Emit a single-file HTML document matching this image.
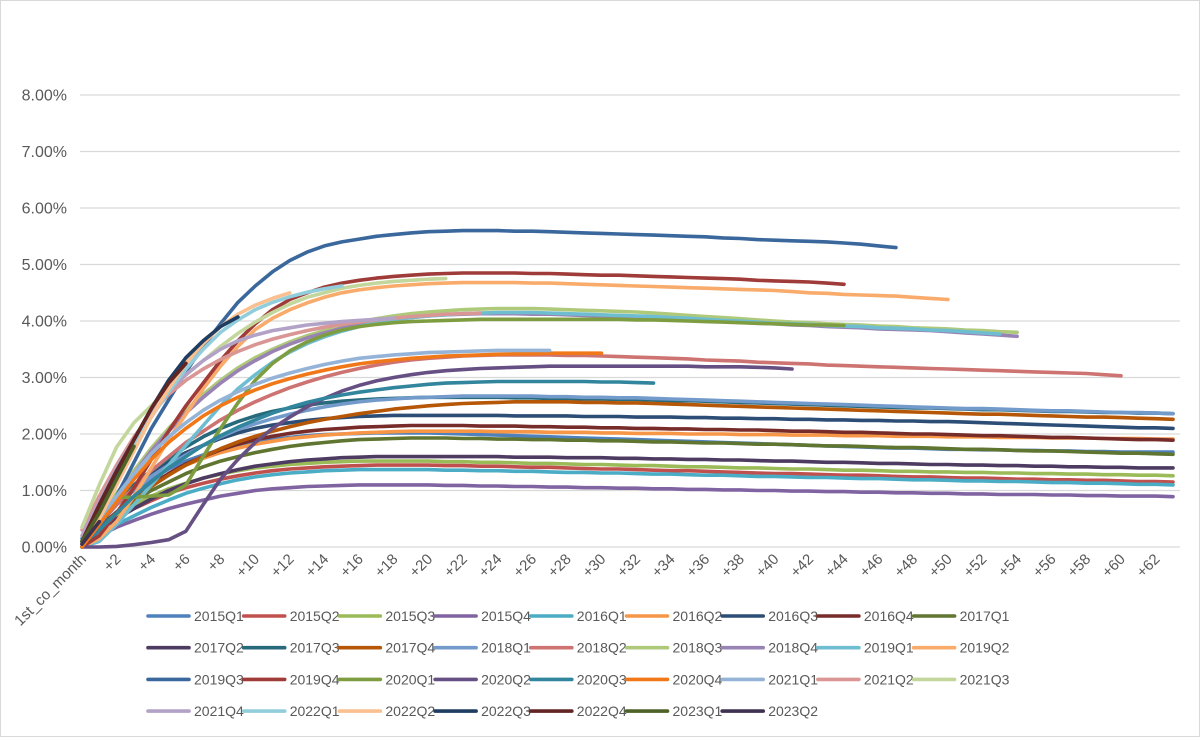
<!DOCTYPE html>
<html><head><meta charset="utf-8"><style>
html,body{margin:0;padding:0;background:#fff;}
#wrap{position:relative;width:1200px;height:737px;overflow:hidden;font-family:"Liberation Sans",sans-serif;}
</style></head><body>
<div id="wrap">
<svg id="chart" width="1200" height="737" xmlns="http://www.w3.org/2000/svg">
<rect x="0.5" y="0.5" width="1199" height="736" fill="#fff" stroke="#d9d9d9"/>
<g id="grid"></g>
<g id="yticks"></g>
<g id="xticks"></g>
<g id="lines"></g>
<g id="legend"></g>
</svg>
</div>
<script>
const yTicks = [0,1,2,3,4,5,6,7,8];
const seriesNames = ["2015Q1","2015Q2","2015Q3","2015Q4","2016Q1","2016Q2","2016Q3","2016Q4","2017Q1","2017Q2","2017Q3","2017Q4","2018Q1","2018Q2","2018Q3","2018Q4","2019Q1","2019Q2","2019Q3","2019Q4","2020Q1","2020Q2","2020Q3","2020Q4","2021Q1","2021Q2","2021Q3","2021Q4","2022Q1","2022Q2","2022Q3","2022Q4","2023Q1","2023Q2"];
const seriesColors = ["#4F81BD","#C0504D","#9BBB59","#8064A2","#4BACC6","#F79646","#2C4D75","#772C2A","#5F7530","#4D3B62","#276A7C","#B65708","#729ACA","#CD7371","#AFC97A","#9983B5","#6FBDD1","#F9AB6B","#3A679C","#9F3B38","#7E9D40","#664F83","#31859C","#F07818","#95B3D7","#D99694","#C3D69B","#B2A2C7","#92CDDC","#FAC090","#1F3D60","#632523","#4F6228","#3F3151"];
const s2015Q1=[0.15,0.45,0.75,1.0,1.2,1.38,1.52,1.63,1.72,1.8,1.86,1.9,1.94,1.97,1.99,2.0,2.01,2.02,2.02,2.02,2.02,2.01,2.0,1.99,1.98,1.97,1.96,1.95,1.94,1.93,1.92,1.91,1.9,1.89,1.88,1.87,1.86,1.85,1.84,1.83,1.82,1.81,1.8,1.79,1.78,1.77,1.76,1.75,1.75,1.74,1.73,1.73,1.72,1.72,1.71,1.71,1.7,1.7,1.69,1.69,1.68,1.68,1.68,1.68];
const s2015Q2=[0.1,0.3,0.5,0.68,0.82,0.95,1.05,1.13,1.2,1.26,1.31,1.35,1.38,1.4,1.42,1.43,1.44,1.45,1.45,1.45,1.45,1.44,1.44,1.43,1.43,1.42,1.41,1.41,1.4,1.39,1.38,1.38,1.37,1.36,1.35,1.35,1.34,1.33,1.32,1.31,1.3,1.3,1.29,1.28,1.27,1.27,1.26,1.25,1.24,1.24,1.23,1.22,1.22,1.21,1.2,1.2,1.19,1.19,1.18,1.18,1.17,1.16,1.16,1.15];
const s2015Q3=[0.1,0.32,0.55,0.74,0.9,1.03,1.13,1.22,1.29,1.35,1.4,1.43,1.46,1.48,1.5,1.51,1.52,1.52,1.52,1.52,1.52,1.51,1.51,1.5,1.5,1.49,1.48,1.48,1.47,1.46,1.46,1.45,1.44,1.44,1.43,1.42,1.42,1.41,1.4,1.4,1.39,1.38,1.38,1.37,1.36,1.36,1.35,1.34,1.34,1.33,1.33,1.32,1.32,1.31,1.31,1.3,1.3,1.29,1.29,1.28,1.28,1.27,1.27,1.26];
const s2015Q4=[0.05,0.2,0.35,0.47,0.58,0.68,0.76,0.83,0.9,0.95,1.0,1.03,1.05,1.07,1.08,1.09,1.1,1.1,1.1,1.1,1.1,1.09,1.09,1.08,1.08,1.07,1.07,1.06,1.06,1.05,1.05,1.04,1.04,1.03,1.03,1.02,1.02,1.01,1.01,1.0,1.0,0.99,0.99,0.98,0.98,0.97,0.97,0.96,0.96,0.95,0.95,0.94,0.94,0.93,0.93,0.93,0.92,0.92,0.91,0.91,0.9,0.9,0.9,0.89];
const s2016Q1=[0.05,0.22,0.4,0.55,0.7,0.83,0.95,1.04,1.12,1.19,1.24,1.28,1.31,1.33,1.35,1.36,1.37,1.37,1.37,1.37,1.37,1.36,1.36,1.35,1.35,1.34,1.34,1.33,1.32,1.32,1.31,1.31,1.3,1.29,1.29,1.28,1.27,1.27,1.26,1.25,1.25,1.24,1.23,1.23,1.22,1.21,1.21,1.2,1.19,1.19,1.18,1.17,1.17,1.16,1.16,1.15,1.14,1.14,1.13,1.13,1.12,1.11,1.11,1.1];
const s2016Q2=[0.05,0.3,0.6,0.9,1.1,1.3,1.45,1.57,1.67,1.75,1.82,1.87,1.92,1.95,1.98,2.0,2.02,2.03,2.04,2.05,2.05,2.05,2.05,2.05,2.04,2.04,2.04,2.03,2.03,2.03,2.02,2.02,2.01,2.01,2.01,2.0,2.0,2.0,1.99,1.99,1.99,1.98,1.98,1.98,1.97,1.97,1.97,1.96,1.96,1.96,1.95,1.95,1.95,1.94,1.94,1.94,1.93,1.93,1.93,1.92,1.92,1.92,1.91,1.91];
const s2016Q3=[0.1,0.4,0.75,1.05,1.3,1.5,1.67,1.8,1.92,2.02,2.1,2.16,2.2,2.24,2.27,2.29,2.31,2.32,2.33,2.33,2.33,2.33,2.33,2.33,2.33,2.32,2.32,2.32,2.32,2.31,2.31,2.31,2.3,2.3,2.3,2.29,2.29,2.28,2.28,2.27,2.27,2.26,2.26,2.25,2.25,2.24,2.24,2.23,2.23,2.22,2.22,2.21,2.2,2.19,2.18,2.17,2.16,2.15,2.14,2.13,2.12,2.11,2.11,2.1];
const s2016Q4=[0.1,0.35,0.62,0.88,1.1,1.3,1.47,1.6,1.72,1.82,1.9,1.96,2.01,2.05,2.08,2.1,2.12,2.13,2.14,2.15,2.15,2.15,2.15,2.14,2.14,2.14,2.13,2.13,2.12,2.12,2.11,2.11,2.1,2.1,2.09,2.09,2.08,2.08,2.07,2.07,2.06,2.05,2.05,2.04,2.03,2.03,2.02,2.01,2.0,2.0,1.99,1.98,1.97,1.97,1.96,1.95,1.94,1.94,1.93,1.92,1.91,1.9,1.9,1.89];
const s2017Q1=[0.1,0.35,0.6,0.82,1.0,1.15,1.3,1.42,1.52,1.6,1.67,1.73,1.78,1.82,1.85,1.88,1.9,1.91,1.92,1.93,1.93,1.93,1.92,1.92,1.91,1.91,1.9,1.9,1.89,1.89,1.88,1.88,1.87,1.86,1.86,1.85,1.84,1.84,1.83,1.82,1.82,1.81,1.8,1.79,1.79,1.78,1.77,1.76,1.76,1.75,1.74,1.73,1.73,1.72,1.71,1.7,1.7,1.69,1.68,1.67,1.66,1.66,1.65,1.64];
const s2017Q2=[0.05,0.3,0.5,0.68,0.85,1.0,1.12,1.22,1.3,1.37,1.43,1.47,1.51,1.54,1.56,1.58,1.59,1.6,1.6,1.6,1.6,1.6,1.6,1.6,1.6,1.59,1.59,1.59,1.58,1.58,1.58,1.57,1.57,1.56,1.56,1.55,1.55,1.54,1.54,1.53,1.52,1.52,1.51,1.5,1.5,1.49,1.48,1.48,1.47,1.46,1.46,1.45,1.45,1.44,1.44,1.43,1.43,1.42,1.42,1.41,1.41,1.4,1.4,1.4];
const s2017Q3=[0.1,0.45,0.8,1.1,1.35,1.57,1.77,1.95,2.1,2.22,2.32,2.4,2.46,2.51,2.55,2.58,2.6,2.62,2.63,2.64,2.65,2.65,2.65,2.65,2.65,2.64,2.64,2.63,2.63,2.62,2.62,2.61,2.61,2.6,2.59,2.59,2.58,2.57,2.56,2.55,2.54,2.53,2.52,2.51,2.5,2.49,2.48,2.47,2.46,2.46,2.45,2.44,2.43,2.43,2.42,2.41,2.4,2.4,2.39,2.38,2.38,2.37,2.37,2.36];
const s2017Q4=[0.05,0.3,0.6,0.85,1.07,1.27,1.45,1.6,1.74,1.86,1.96,2.05,2.13,2.2,2.26,2.31,2.36,2.4,2.44,2.47,2.5,2.52,2.54,2.55,2.56,2.57,2.57,2.57,2.57,2.56,2.56,2.55,2.55,2.54,2.53,2.52,2.51,2.5,2.49,2.48,2.47,2.46,2.45,2.44,2.43,2.42,2.41,2.4,2.39,2.38,2.37,2.36,2.35,2.35,2.34,2.33,2.32,2.31,2.3,2.3,2.29,2.28,2.27,2.26];
const s2018Q1=[0.1,0.45,0.75,1.0,1.25,1.45,1.63,1.8,1.95,2.08,2.18,2.27,2.35,2.42,2.48,2.53,2.57,2.6,2.62,2.64,2.65,2.66,2.67,2.67,2.67,2.67,2.67,2.66,2.66,2.65,2.65,2.64,2.64,2.63,2.62,2.61,2.6,2.59,2.58,2.57,2.56,2.55,2.54,2.53,2.52,2.51,2.5,2.49,2.48,2.47,2.46,2.45,2.45,2.44,2.43,2.42,2.41,2.41,2.4,2.39,2.38,2.38,2.37,2.36];
const s2018Q2=[0.1,0.4,0.75,1.05,1.35,1.6,1.85,2.05,2.25,2.42,2.57,2.7,2.82,2.92,3.01,3.09,3.16,3.22,3.27,3.31,3.34,3.36,3.38,3.39,3.4,3.4,3.4,3.4,3.39,3.39,3.38,3.37,3.36,3.35,3.34,3.33,3.31,3.3,3.29,3.27,3.26,3.25,3.24,3.22,3.21,3.2,3.19,3.18,3.17,3.16,3.15,3.14,3.13,3.12,3.11,3.1,3.09,3.08,3.07,3.05,3.03];
const s2018Q3=[0.1,0.5,0.95,1.35,1.75,2.1,2.42,2.7,2.95,3.17,3.35,3.5,3.63,3.74,3.83,3.91,3.98,4.04,4.09,4.13,4.16,4.18,4.2,4.21,4.22,4.22,4.22,4.21,4.2,4.19,4.18,4.17,4.16,4.14,4.12,4.1,4.08,4.06,4.04,4.02,4.0,3.98,3.97,3.95,3.94,3.93,3.91,3.9,3.88,3.87,3.86,3.84,3.83,3.81,3.8];
const s2018Q4=[0.1,0.45,0.9,1.3,1.7,2.05,2.37,2.65,2.9,3.12,3.3,3.46,3.59,3.7,3.79,3.87,3.93,3.98,4.03,4.06,4.09,4.11,4.12,4.13,4.13,4.13,4.12,4.12,4.11,4.1,4.09,4.08,4.07,4.06,4.04,4.03,4.01,3.99,3.98,3.96,3.95,3.93,3.92,3.9,3.89,3.88,3.86,3.85,3.84,3.83,3.81,3.79,3.77,3.75,3.73];
const s2019Q1=[0.0,0.1,0.4,0.75,1.1,1.45,1.8,2.15,2.5,2.8,3.05,3.27,3.45,3.6,3.72,3.82,3.9,3.97,4.02,4.06,4.09,4.11,4.13,4.14,4.15,4.15,4.15,4.14,4.13,4.12,4.11,4.1,4.09,4.08,4.06,4.05,4.03,4.01,4.0,3.98,3.96,3.95,3.94,3.92,3.91,3.9,3.88,3.87,3.86,3.84,3.83,3.81,3.79,3.77];
const s2019Q2=[0.0,0.15,0.45,0.9,1.4,1.9,2.35,2.8,3.2,3.55,3.85,4.05,4.2,4.32,4.42,4.5,4.55,4.59,4.62,4.64,4.66,4.67,4.68,4.68,4.68,4.68,4.67,4.67,4.66,4.65,4.64,4.63,4.62,4.61,4.6,4.59,4.58,4.57,4.56,4.55,4.54,4.52,4.5,4.49,4.47,4.46,4.45,4.44,4.42,4.4,4.38];
const s2019Q3=[0.0,0.3,0.9,1.5,2.1,2.6,3.1,3.55,3.95,4.33,4.62,4.87,5.07,5.22,5.33,5.4,5.45,5.5,5.53,5.56,5.58,5.59,5.6,5.6,5.6,5.59,5.59,5.58,5.57,5.56,5.55,5.54,5.53,5.52,5.51,5.5,5.49,5.47,5.46,5.44,5.43,5.42,5.41,5.4,5.38,5.36,5.33,5.3];
const s2019Q4=[0.0,0.2,0.6,1.05,1.55,2.05,2.5,2.9,3.3,3.65,3.95,4.2,4.38,4.5,4.6,4.67,4.72,4.76,4.79,4.81,4.83,4.84,4.85,4.85,4.85,4.85,4.84,4.84,4.83,4.82,4.81,4.81,4.8,4.79,4.78,4.77,4.76,4.75,4.74,4.72,4.71,4.7,4.69,4.67,4.65];
const s2020Q1=[0.05,0.5,0.88,0.88,0.9,0.92,1.1,1.6,2.1,2.55,2.95,3.25,3.47,3.63,3.75,3.84,3.9,3.94,3.97,3.99,4.0,4.01,4.02,4.03,4.03,4.03,4.03,4.03,4.03,4.03,4.03,4.03,4.02,4.02,4.01,4.0,3.99,3.98,3.97,3.96,3.95,3.94,3.93,3.93,3.92];
const s2020Q2=[0,0,0.01,0.04,0.08,0.13,0.28,0.75,1.2,1.55,1.85,2.1,2.3,2.48,2.63,2.76,2.86,2.94,3.0,3.05,3.09,3.12,3.14,3.16,3.17,3.18,3.19,3.2,3.2,3.2,3.2,3.2,3.2,3.2,3.2,3.2,3.19,3.19,3.19,3.18,3.17,3.15];
const s2020Q3=[0.05,0.3,0.6,0.9,1.15,1.4,1.6,1.8,1.97,2.12,2.25,2.37,2.47,2.56,2.63,2.69,2.74,2.78,2.82,2.85,2.88,2.9,2.91,2.92,2.93,2.93,2.93,2.93,2.93,2.93,2.92,2.92,2.91,2.9];
const s2020Q4=[0.0,0.4,0.8,1.2,1.55,1.85,2.1,2.32,2.5,2.65,2.78,2.89,2.98,3.06,3.13,3.19,3.24,3.28,3.31,3.34,3.36,3.38,3.39,3.4,3.41,3.42,3.42,3.43,3.43,3.43,3.43];
const s2021Q1=[0.05,0.5,0.9,1.3,1.65,1.95,2.2,2.42,2.6,2.75,2.88,2.99,3.08,3.16,3.23,3.29,3.34,3.37,3.4,3.42,3.44,3.45,3.46,3.47,3.48,3.48,3.48,3.48];
const s2021Q2=[0.3,0.9,1.45,1.95,2.35,2.7,2.95,3.15,3.32,3.46,3.58,3.68,3.76,3.83,3.89,3.94,3.98,4.02,4.05,4.08,4.1,4.12,4.13,4.14];
const s2021Q3=[0.35,1.1,1.77,2.2,2.5,2.8,3.05,3.3,3.55,3.78,3.98,4.15,4.3,4.42,4.5,4.58,4.63,4.67,4.7,4.72,4.74,4.75];
const s2021Q4=[0.2,0.8,1.4,1.9,2.35,2.75,3.05,3.3,3.5,3.65,3.75,3.83,3.88,3.93,3.96,3.99,4.01,4.03,4.05];
const s2022Q1=[0.1,0.6,1.2,1.8,2.3,2.75,3.15,3.5,3.8,4.02,4.2,4.33,4.43,4.51,4.57,4.62];
const s2022Q2=[0.05,0.5,1.1,1.7,2.3,2.8,3.25,3.6,3.9,4.12,4.28,4.4,4.5];
const s2022Q3=[0.1,0.7,1.3,1.9,2.45,2.95,3.35,3.65,3.9,4.07];
const s2022Q4=[0.1,0.75,1.35,1.9,2.45,2.9,3.25];
const s2023Q1=[0.1,0.6,1.2,1.78];
const s2023Q2=[0.05,0.45];
const seriesValues=[s2015Q1,s2015Q2,s2015Q3,s2015Q4,s2016Q1,s2016Q2,s2016Q3,s2016Q4,s2017Q1,s2017Q2,s2017Q3,s2017Q4,s2018Q1,s2018Q2,s2018Q3,s2018Q4,s2019Q1,s2019Q2,s2019Q3,s2019Q4,s2020Q1,s2020Q2,s2020Q3,s2020Q4,s2021Q1,s2021Q2,s2021Q3,s2021Q4,s2022Q1,s2022Q2,s2022Q3,s2022Q4,s2023Q1,s2023Q2];
const categoryCount = 64;

const NS="http://www.w3.org/2000/svg";
const X0=82, XSTEP=(1173-82)/63, Y0=547, YPER=56.5;
function xScale(i){return X0+i*XSTEP;}
function yScale(v){return Y0-v*YPER;}
function mk(tag,attrs,parent){const e=document.createElementNS(NS,tag);for(const k in attrs)e.setAttribute(k,attrs[k]);parent.appendChild(e);return e;}
const grid=document.getElementById('grid'), yt=document.getElementById('yticks'), xt=document.getElementById('xticks'), lines=document.getElementById('lines'), leg=document.getElementById('legend');
yTicks.forEach(v=>{
  const l=mk('line',{x1:80,x2:1180,y1:yScale(v),y2:yScale(v),stroke:'#d9d9d9','stroke-width':1.3},grid);
  
  
  const t=mk('text',{x:67,y:yScale(v)+5.5,'text-anchor':'end','font-size':16,fill:'#595959'},yt);
  t.textContent=v.toFixed(2)+'%';
  
  
});
for(let i=0;i<categoryCount;i+=2){
  const lab=i===0?'1st_co_month':'+'+i;
  const x=xScale(i)+5, y=560;
  const t=mk('text',{x:x,y:y,'text-anchor':'end','font-size':15,fill:'#595959',transform:'rotate(-45 '+x+' '+y+')'},xt);
  t.textContent=lab;
  
  
}
seriesValues.forEach((vals,si)=>{
  const d=vals.map((v,i)=>(i?'L':'M')+xScale(i).toFixed(1)+','+yScale(v).toFixed(1)).join(' ');
  const p=mk('path',{d:d,fill:'none',stroke:seriesColors[si],'stroke-width':3.6,'stroke-linejoin':'round','stroke-linecap':'round'},lines);
  
  
});
seriesNames.forEach((n,si)=>{
  const col=si%9,row=Math.floor(si/9);
  const lx=148+col*95.7, ly=616+row*31.7;
  const g=mk('g',{},leg);
  
  
  mk('line',{x1:lx,x2:lx+41,y1:ly,y2:ly,stroke:seriesColors[si],'stroke-width':3.6,'stroke-linecap':'round'},g);
  const t=mk('text',{x:lx+46,y:ly+5,'font-size':14,fill:'#595959'},g);
  t.textContent=n;
});
</script>
</body></html>
